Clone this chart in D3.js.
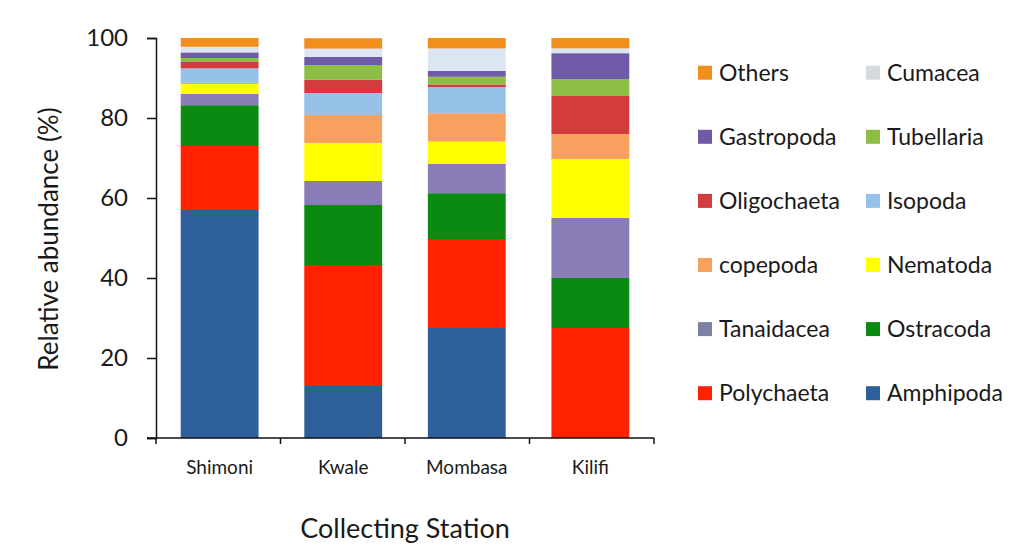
<!DOCTYPE html>
<html><head><meta charset="utf-8">
<script src="https://cdn.jsdelivr.net/npm/d3@7"></script>
<style>
html,body{margin:0;padding:0;background:#fff;}
svg text{font-family:Lato,"Open Sans",sans-serif;fill:#1a1a1a;}
</style></head>
<body><svg id="c" width="1016" height="548"></svg>
<script>
const stations = ["Shimoni","Kwale","Mombasa","Kilifi"];
// stacking order, bottom to top
const taxa = ["Amphipoda","Polychaeta","Ostracoda","Tanaidacea","Nematoda","copepoda","Isopoda","Oligochaeta","Tubellaria","Gastropoda","Cumacea","Others"];
const Amphipoda   = [57, 13, 27.5, 0];
const Polychaeta  = [16, 30.25, 22.25, 27.5];
const Ostracoda   = [10.2, 15, 11.45, 12.5];
const Tanaidacea  = [2.8, 6, 7.3, 15];
const Nematoda    = [2.5, 9.5, 5.6, 14.75];
const copepoda    = [0.3, 7, 7.1, 6.25];
const Isopoda     = [3.6, 5.5, 6.5, 0];
const Oligochaeta = [1.6, 3.3, 0.7, 9.5];
const Tubellaria  = [1.0, 3.7, 1.9, 4.2];
const Gastropoda  = [1.4, 2, 1.5, 6.5];
const Cumacea     = [1.4, 2.1, 5.6, 1.2];
const Others      = [2.2, 2.6, 2.6, 2.6];
const yTicks = [0,20,40,60,80,100];
const legendOrder = ["Others","Cumacea","Gastropoda","Tubellaria","Oligochaeta","Isopoda","copepoda","Nematoda","Tanaidacea","Ostracoda","Polychaeta","Amphipoda"];

const colors = {
  Amphipoda:"#2d609a", Polychaeta:"#ff2200", Ostracoda:"#0b8a12", Tanaidacea:"#8a7cb6",
  Nematoda:"#ffff00", copepoda:"#f8a05e", Isopoda:"#96c2ea", Oligochaeta:"#d23c3c",
  Tubellaria:"#8cbd44", Gastropoda:"#6f5aa8", Cumacea:"#dbe6f2", Others:"#f28e1c"
};
const legendColors = Object.assign({}, colors, {Tanaidacea:"#7f80a6", Cumacea:"#d7d9e0"});

const series = {Amphipoda,Polychaeta,Ostracoda,Tanaidacea,Nematoda,copepoda,Isopoda,Oligochaeta,Tubellaria,Gastropoda,Cumacea,Others};
const rows = stations.map((s,i)=>{const r={station:s}; taxa.forEach(t=>r[t]=series[t][i]); return r;});
const stacked = d3.stack().keys(taxa)(rows);

const svg = d3.select("#c");
const x0 = 156, x1 = 654, yTop = 38, yBot = 438;
const x = d3.scaleBand().domain(stations).range([x0, x1]).paddingInner(0.37).paddingOuter(0.2);
const y = d3.scaleLinear().domain([0,100]).range([yBot, yTop]);

svg.append("g").selectAll("g").data(stacked).join("g")
  .attr("fill", d=>colors[d.key])
  .selectAll("rect").data(d=>d).join("rect")
  .attr("x", d=>x(d.data.station))
  .attr("width", x.bandwidth())
  .attr("y", d=>y(Math.min(d[1],100)))
  .attr("height", d=>Math.max(0, y(d[0]) - y(Math.min(d[1],100))));

// y axis
const ya = svg.append("g").attr("transform",`translate(${x0},0)`)
  .call(d3.axisLeft(y).tickValues(yTicks).tickSize(9).tickPadding(19));
ya.select(".domain").attr("stroke","#111").attr("stroke-width",1.5);
ya.selectAll(".tick line").attr("stroke","#111").attr("stroke-width",1.5);
ya.selectAll(".tick text").attr("font-size",24).attr("font-family","Lato,sans-serif").attr("fill","#1a1a1a");

// x axis with ticks at band boundaries
const xa = svg.append("g").attr("transform",`translate(0,${yBot})`);
xa.append("line").attr("x1",x0-9).attr("x2",x1).attr("stroke","#111").attr("stroke-width",1.5);
const bounds = d3.range(stations.length+1).map(i=>x0 + i*(x1-x0)/stations.length);
xa.selectAll("line.t").data(bounds).join("line").attr("class","t")
  .attr("x1",d=>d).attr("x2",d=>d).attr("y1",0).attr("y2",6).attr("stroke","#111").attr("stroke-width",1.5);
xa.selectAll("text").data(stations).join("text")
  .attr("x",d=>x(d)+x.bandwidth()/2).attr("y",36)
  .attr("text-anchor","middle").attr("font-size",19).text(d=>d);

svg.append("text").attr("x",405).attr("y",538).attr("text-anchor","middle").attr("font-size",27).text("Collecting Station");
svg.append("text").attr("transform","translate(49,239) rotate(-90)").attr("dy","0.35em").attr("text-anchor","middle").attr("font-size",26).text("Relative abundance (%)");

// legend
const lg = svg.append("g");
legendOrder.forEach((k,i)=>{
  const col = i%2, row = Math.floor(i/2);
  const lx = col===0 ? 698 : 866;
  const ly = 72.7 + row*64.1;
  lg.append("rect").attr("x",lx).attr("y",ly-7).attr("width",14).attr("height",14).attr("fill",legendColors[k]);
  lg.append("text").attr("x",lx+21).attr("y",ly).attr("dy","0.35em").attr("font-size",23).text(k);
});
</script></body></html>
